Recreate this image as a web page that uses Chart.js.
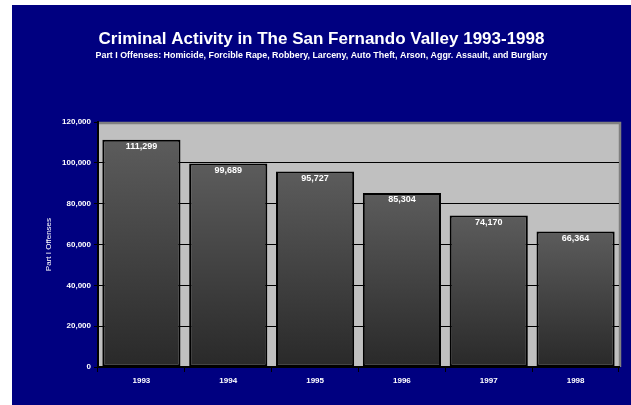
<!DOCTYPE html>
<html>
<head>
  <meta charset="UTF-8" />
  <title>Criminal Activity in The San Fernando Valley</title>
  <script src="https://cdn.jsdelivr.net/npm/chart.js"></script>
  <style>
    body { margin: 0; background: #fff; }
    .chart-container { position: absolute; left: 12px; top: 5px; width: 619px; height: 400px; background: #000080; }
  </style>
</head>
<body>
  <div class="chart-container"><canvas id="crimeChart"></canvas></div>

  <script>
    const years = ['1993', '1994', '1995', '1996', '1997', '1998'];
    const offenses = [111299, 99689, 95727, 85304, 74170, 66364];
    const yTicks = [0, 20000, 40000, 60000, 80000, 100000, 120000];

    Chart.defaults.font.family = '"Liberation Sans", Arial, sans-serif';
    Chart.defaults.color = '#fff';

    const fmt = (v) => v.toLocaleString('en-US');

    // gray "wall" behind the bars, with the 3D edge on top and right
    const plotBackground = {
      id: 'plotBackground',
      beforeDraw(chart) {
        const { ctx, chartArea: a } = chart;
        ctx.save();
        ctx.fillStyle = '#c0c0c0';
        ctx.fillRect(a.left, a.top, a.right - a.left, a.bottom - a.top);
        ctx.strokeStyle = '#808080';
        ctx.lineWidth = 2.5;
        ctx.beginPath();
        ctx.moveTo(a.left, a.top + 1);
        ctx.lineTo(a.right + 1, a.top + 1);
        ctx.lineTo(a.right + 1, a.bottom);
        ctx.stroke();
        ctx.restore();
      }
    };

    const barLabels = {
      id: 'barLabels',
      afterDatasetsDraw(chart) {
        const { ctx } = chart;
        const meta = chart.getDatasetMeta(0);
        ctx.save();
        ctx.fillStyle = '#fff';
        ctx.font = 'bold 9px "Liberation Sans", Arial, sans-serif';
        ctx.textAlign = 'center';
        ctx.textBaseline = 'top';
        meta.data.forEach((bar, i) => {
          ctx.fillText(fmt(offenses[i]), bar.x, bar.y + 2);
        });
        ctx.restore();
      }
    };

    const barGradient = (c) => {
      const chart = c.chart;
      if (!chart.chartArea) return '#444';
      const y = chart.scales.y;
      const g = chart.ctx.createLinearGradient(0, y.getPixelForValue(c.raw), 0, y.getPixelForValue(0));
      g.addColorStop(0, '#5c5c5c');
      g.addColorStop(1, '#292929');
      return g;
    };

    new Chart(document.getElementById('crimeChart'), {
      type: 'bar',
      data: {
        labels: years,
        datasets: [{
          label: 'Part I Offenses',
          data: offenses,
          backgroundColor: barGradient,
          borderColor: '#000',
          borderWidth: 2,
          borderSkipped: false,
          barPercentage: 0.9,
          categoryPercentage: 1.0
        }]
      },
      options: {
        responsive: true,
        maintainAspectRatio: false,
        animation: false,
        layout: { padding: { top: 0, right: 12, left: 12, bottom: 0 } },
        plugins: {
          legend: { display: false },
          tooltip: { enabled: false },
          title: {
            display: true,
            text: 'Criminal Activity in The San Fernando Valley 1993-1998',
            color: '#fff',
            font: { size: 17, weight: 'bold', lineHeight: 1.2 },
            padding: { top: 24, bottom: 0 }
          },
          subtitle: {
            display: true,
            text: 'Part I Offenses: Homicide, Forcible Rape, Robbery, Larceny, Auto Theft, Arson, Aggr. Assault, and Burglary',
            color: '#fff',
            font: { size: 8.9, weight: 'bold', lineHeight: 1.2 },
            padding: { top: 1, bottom: 61 }
          }
        },
        scales: {
          x: {
            afterFit: (s) => { s.height = 38; },
            grid: { drawOnChartArea: false, tickLength: 5, color: '#000', lineWidth: 1 },
            border: { color: '#000', width: 2 },
            ticks: { color: '#fff', padding: 4, font: { size: 8, weight: 'bold' } }
          },
          y: {
            min: 0,
            max: 120000,
            afterFit: (s) => { s.width = 74; },
            afterBuildTicks: (s) => { s.ticks = yTicks.map(v => ({ value: v })); },
            grid: {
              color: (c) => c.tick && c.tick.value === 120000 ? 'rgba(0,0,0,0)' : '#000',
              tickColor: '#000',
              tickLength: 4,
              lineWidth: 1
            },
            border: { color: '#000', width: 2 },
            ticks: {
              color: '#fff',
              padding: 3,
              font: { size: 8, weight: 'bold' },
              callback: (v) => fmt(v)
            },
            title: {
              display: true,
              text: 'Part I Offenses',
              color: '#fff',
              font: { size: 8 },
              padding: { top: 20, bottom: 0 }
            }
          }
        }
      },
      plugins: [plotBackground, barLabels]
    });
  </script>
</body>
</html>
